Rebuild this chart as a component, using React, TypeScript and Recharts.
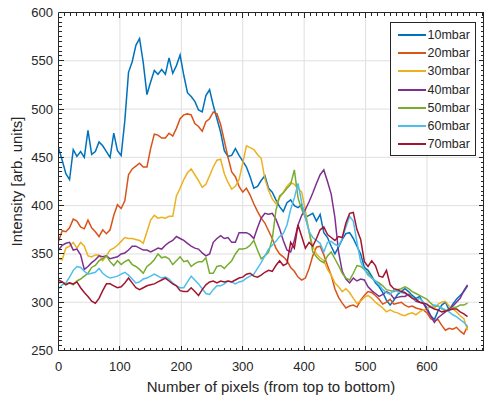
import { CartesianGrid, Legend, Line, LineChart, ReferenceLine, XAxis, YAxis } from "recharts";

// intensity profiles along the image column, sampled every 6 pixels
const pixelStep = 6;

const mbar10 = [
  460, 447, 433, 427, 458, 451, 456, 450, 478, 453,
  456, 466, 462, 456, 450, 475, 457, 452, 488, 538,
  549, 566, 573, 548, 515, 528, 540, 536, 541, 536,
  553, 537, 545, 556, 535, 517, 513, 508, 499, 497,
  514, 520, 504, 490, 476, 457, 451, 452, 459, 452,
  446, 440, 430, 418, 420, 426, 431, 418, 414, 406,
  399, 394, 403, 406, 400, 398, 401, 388, 390, 392,
  384, 391, 372, 367, 358, 350, 357, 365, 371, 372,
  366, 358, 350, 336, 333, 327, 320, 316, 310, 302,
  297, 302, 308, 311, 314, 311, 307, 304, 306, 299,
  294, 286, 282, 291, 297, 300, 292, 298, 303, 307,
  311, 317,
];

const mbar20 = [
  363, 374, 373, 377, 386, 384, 378, 376, 385, 377,
  373, 368, 375, 371, 375, 390, 401, 397, 405, 432,
  438, 441, 444, 440, 440, 459, 474, 473, 470, 470,
  475, 472, 480, 490, 494, 495, 494, 485, 482, 477,
  487, 490, 497, 495, 484, 467, 450, 435, 430, 420,
  414, 418, 411, 402, 394, 387, 382, 374, 366, 356,
  350, 347, 343, 336, 332, 326, 323, 325, 335, 348,
  357, 358, 349, 338, 328, 314, 305, 299, 294, 296,
  297, 295, 302, 307, 311, 310, 307, 303, 298, 300,
  303, 298, 299, 300, 297, 295, 296, 294, 293, 292,
  289, 283, 281, 282, 276, 271, 273, 272, 274, 270,
  267, 275,
];

const mbar30 = [
  345, 344, 356, 358, 362, 356, 362, 358, 348, 347,
  349, 349, 343, 348, 354, 356, 359, 363, 367, 366,
  366, 365, 364, 361, 373, 385, 390, 387, 388, 387,
  389, 389, 410, 418, 427, 434, 438, 432, 426, 419,
  422, 431, 440, 447, 448, 433, 424, 417, 420, 427,
  444, 462, 460, 458, 453, 449, 428, 416, 407, 402,
  408, 414, 420, 424, 422, 418, 414, 395, 372, 358,
  350, 346, 343, 334, 328, 320, 316, 311, 314, 310,
  304, 299, 301, 305, 307, 304, 300, 297, 294, 290,
  292, 290, 289, 287, 286, 288, 289, 287, 290, 292,
  293, 296, 294, 298, 300, 301, 296, 293, 290, 286,
  283, 271,
];

const mbar40 = [
  354, 359, 361, 362, 354, 355, 349, 334, 337, 341,
  344, 348, 347, 348, 345, 346, 347, 350, 351, 354,
  358, 358, 356, 354, 354, 352, 354, 356, 355, 359,
  362, 364, 368, 366, 364, 361, 358, 356, 355, 351,
  348, 350, 362, 366, 369, 366, 367, 362, 362, 372,
  372, 372, 370, 366, 377, 387, 392, 391, 392, 386,
  376, 364, 354, 352, 364, 380, 390, 396, 404, 413,
  423, 432, 437, 425, 412, 388, 352, 332, 324, 320,
  325, 322, 324, 323, 316, 312, 309, 306, 308, 311,
  309, 304, 305, 306, 306, 308, 305, 301, 300, 299,
  292, 286, 279, 284, 287, 290, 293, 296, 300, 304,
  312, 318,
];

const mbar50 = [
  320, 321, 319, 320, 318, 322, 324, 327, 330, 336,
  338, 343, 345, 348, 342, 338, 343, 339, 342, 344,
  339, 337, 334, 330, 337, 340, 344, 350, 346, 347,
  345, 339, 343, 347, 342, 343, 337, 340, 342, 342,
  346, 330, 330, 337, 338, 335, 339, 343, 350, 355,
  355, 356, 359, 364, 354, 345, 348, 352, 365, 395,
  410, 413, 418, 422, 437, 408, 396, 388, 374, 352,
  347, 343, 341, 348, 352, 345, 338, 330, 325, 323,
  330, 338, 337, 334, 330, 325, 322, 320, 317, 313,
  312, 311, 313, 314, 316, 314, 311, 309, 307, 305,
  303, 299, 296, 296, 293, 291, 292, 294, 295, 297,
  297, 299,
];

const mbar60 = [
  314, 318, 320, 326, 333, 337, 336, 332, 329, 330,
  331, 335, 330, 327, 325, 326, 327, 329, 331, 328,
  324, 320, 321, 324, 325, 327, 329, 327, 325, 326,
  324, 320, 317, 315, 315, 321, 327, 323, 319, 314,
  309, 308, 313, 317, 317, 319, 322, 321, 319, 321,
  322, 325, 327, 329, 335, 341, 348, 355, 359, 363,
  368, 371, 380, 396, 408, 423, 403, 388, 373, 367,
  364, 361, 352, 362, 363, 360, 358, 366, 378, 389,
  384, 362, 342, 334, 328, 325, 322, 318, 313, 310,
  308, 313, 311, 310, 309, 307, 305, 302, 304, 300,
  297, 295, 297, 296, 294, 292, 290, 287, 285, 282,
  279, 275,
];

const mbar70 = [
  323, 321, 318, 320, 319, 321, 315, 310, 306, 301,
  299, 304, 312, 319, 319, 317, 315, 316, 320, 325,
  320, 315, 313, 315, 317, 318, 319, 321, 323, 325,
  322, 319, 317, 312, 311, 311, 315, 311, 307, 313,
  318, 321, 322, 320, 322, 321, 322, 321, 323, 325,
  326, 329, 330, 327, 326, 328, 331, 333, 332, 338,
  343, 338, 340, 362, 356, 380, 368, 356, 362, 358,
  366, 375, 378, 370, 367, 364, 368, 367, 382, 392,
  393, 375, 365, 342, 337, 343, 338, 327, 326, 333,
  318, 314, 313, 311, 310, 307, 304, 303, 300, 299,
  298, 295, 293, 292, 290, 291, 292, 293, 293, 290,
  288, 285,
];

const series = [
  { key: "p10", name: "10mbar", color: "#0072BD", values: mbar10 },
  { key: "p20", name: "20mbar", color: "#D95319", values: mbar20 },
  { key: "p30", name: "30mbar", color: "#EDB120", values: mbar30 },
  { key: "p40", name: "40mbar", color: "#7E2F8E", values: mbar40 },
  { key: "p50", name: "50mbar", color: "#77AC30", values: mbar50 },
  { key: "p60", name: "60mbar", color: "#4DBEEE", values: mbar60 },
  { key: "p70", name: "70mbar", color: "#A2142F", values: mbar70 },
];

const rows = mbar10.map((_, i) => {
  const row: Record<string, number> = { px: i * pixelStep };
  series.forEach((s) => {
    row[s.key] = s.values[i];
  });
  return row;
});

const xMajor = [0, 100, 200, 300, 400, 500, 600];
const yMajor = [250, 300, 350, 400, 450, 500, 550, 600];
const xMinor = Array.from({ length: 70 }, (_, i) => i * 10);
const yMinor = Array.from({ length: 71 }, (_, i) => 250 + i * 5);

const X_DOMAIN: [number, number] = [0, 692];
const Y_DOMAIN: [number, number] = [250, 600];

// chart box
const W = 484;
const H = 399;
const MARGIN = { top: 12.5, right: 0.5, bottom: 0, left: 0 };
const Y_AXIS_W = 58.5;
const X_AXIS_H = 48.5;
const PLOT_W = W - MARGIN.left - MARGIN.right - Y_AXIS_W;
const PLOT_H = H - MARGIN.top - MARGIN.bottom - X_AXIS_H;

// tick lengths in screen pixels, turned into data units for each axis
const MAJOR_LEN = 5;
const MINOR_LEN = 3;
const X_PER_PX = (X_DOMAIN[1] - X_DOMAIN[0]) / PLOT_W;
const Y_PER_PX = (Y_DOMAIN[1] - Y_DOMAIN[0]) / PLOT_H;

type Seg = { id: string; segment: { x: number; y: number }[] };

// inward tick marks on all four sides of the box
const frameTicks: Seg[] = [
  ...xMinor.flatMap((v) => {
    const dy = (v % 100 === 0 ? MAJOR_LEN : MINOR_LEN) * Y_PER_PX;
    return [
      { id: `b${v}`, segment: [{ x: v, y: Y_DOMAIN[0] }, { x: v, y: Y_DOMAIN[0] + dy }] },
      { id: `t${v}`, segment: [{ x: v, y: Y_DOMAIN[1] }, { x: v, y: Y_DOMAIN[1] - dy }] },
    ];
  }),
  ...yMinor.flatMap((v) => {
    const dx = (v % 50 === 0 ? MAJOR_LEN : MINOR_LEN) * X_PER_PX;
    return [
      { id: `l${v}`, segment: [{ x: X_DOMAIN[0], y: v }, { x: X_DOMAIN[0] + dx, y: v }] },
      { id: `r${v}`, segment: [{ x: X_DOMAIN[1], y: v }, { x: X_DOMAIN[1] - dx, y: v }] },
    ];
  }),
];

const INK = "#262626";
const FONT = "'Liberation Sans', Arial, Helvetica, sans-serif";

const xLabel = (props: any) => (
  <text x={props.x} y={props.y + 20} textAnchor="middle" fontSize={13} fontFamily={FONT} fill={INK}>
    {props.payload.value}
  </text>
);

const yLabel = (props: any) => (
  <text
    x={props.x - 5.5}
    y={props.y}
    textAnchor="end"
    dominantBaseline="central"
    fontSize={13}
    fontFamily={FONT}
    fill={INK}
  >
    {props.payload.value}
  </text>
);

const xTitle = ({ viewBox }: any) => (
  <text
    x={viewBox.x + viewBox.width / 2}
    y={392}
    textAnchor="middle"
    fontSize={15}
    fontFamily={FONT}
    fill={INK}
  >
    Number of pixels (from top to bottom)
  </text>
);

const yTitle = ({ viewBox }: any) => {
  const cx = 16;
  const cy = viewBox.y + viewBox.height / 2;
  return (
    <text
      x={cx}
      y={cy}
      transform={`rotate(-90 ${cx} ${cy})`}
      textAnchor="middle"
      dominantBaseline="central"
      fontSize={15}
      fontFamily={FONT}
      fill={INK}
    >
      Intensity [arb. units]
    </text>
  );
};

const LegendBox = () => (
  <div
    style={{
      width: 86,
      height: 134,
      boxSizing: "border-box",
      border: `1px solid ${INK}`,
      background: "#fff",
      paddingTop: 3,
      fontFamily: FONT,
      fontSize: 12.5,
      color: INK,
    }}
  >
    {series.map((s) => (
      <div key={s.key} style={{ display: "flex", alignItems: "center", height: 18.2 }}>
        <span
          style={{
            display: "inline-block",
            width: 28,
            height: 2,
            background: s.color,
            marginLeft: 6.5,
            marginRight: 2,
          }}
        />
        <span>{s.name}</span>
      </div>
    ))}
  </div>
);

export default function App() {
  return (
    <div style={{ position: "absolute", left: 0, top: 0, background: "#fff" }}>
      <LineChart width={W} height={H} data={rows} margin={MARGIN}>
        <CartesianGrid
          stroke="#dfdfdf"
          strokeWidth={1}
          verticalValues={xMajor}
          horizontalValues={yMajor}
        />
        <XAxis
          dataKey="px"
          type="number"
          domain={X_DOMAIN}
          allowDataOverflow
          ticks={xMajor}
          interval={0}
          height={X_AXIS_H}
          tickSize={0}
          tickMargin={0}
          tickLine={false}
          axisLine={{ stroke: INK }}
          tick={xLabel}
          label={{ content: xTitle }}
        />
        <YAxis
          type="number"
          domain={Y_DOMAIN}
          allowDataOverflow
          ticks={yMajor}
          interval={0}
          width={Y_AXIS_W}
          tickSize={0}
          tickMargin={0}
          tickLine={false}
          axisLine={{ stroke: INK }}
          tick={yLabel}
          label={{ content: yTitle }}
        />
        {/* top and right edges of the box */}
        <XAxis
          xAxisId="topEdge"
          type="number"
          orientation="top"
          mirror
          domain={X_DOMAIN}
          allowDataOverflow
          tick={false}
          tickLine={false}
          axisLine={{ stroke: INK }}
        />
        <YAxis
          yAxisId="rightEdge"
          type="number"
          orientation="right"
          mirror
          domain={Y_DOMAIN}
          allowDataOverflow
          tick={false}
          tickLine={false}
          axisLine={{ stroke: INK }}
        />
        {series.map((s) => (
          <Line
            key={s.key}
            type="linear"
            dataKey={s.key}
            name={s.name}
            stroke={s.color}
            strokeWidth={1.5}
            dot={false}
            isAnimationActive={false}
          />
        ))}
        {frameTicks.map((t) => (
          <ReferenceLine
            key={t.id}
            segment={t.segment}
            stroke={INK}
            strokeWidth={1}
            ifOverflow="visible"
            shapeRendering="crispEdges"
          />
        ))}
        <Legend
          layout="vertical"
          align="center"
          verticalAlign="middle"
          content={LegendBox}
          wrapperStyle={{ left: 390, top: 22, width: 86, height: 134 }}
        />
      </LineChart>
    </div>
  );
}
